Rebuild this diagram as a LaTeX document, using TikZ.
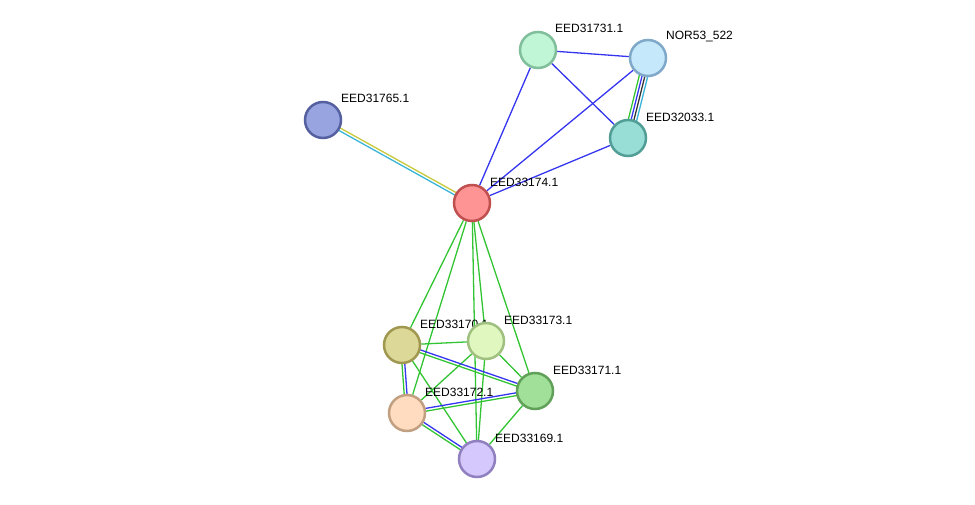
\documentclass[tikz,border=0pt]{standalone}
\usepackage{fontspec}
\setmainfont{Liberation Sans}
\usetikzlibrary{calc}
\pgfdeclarelayer{bg}
\pgfsetlayers{bg,main}
\definecolor{eblue}{HTML}{3535F0}
\definecolor{egreen}{HTML}{33C433}
\definecolor{eyellow}{HTML}{C8C83A}
\definecolor{ecyan}{HTML}{3AB4D8}
\definecolor{eblack}{HTML}{333333}
\tikzset{
  prot/.style={circle, minimum size=36pt, inner sep=0pt, line width=2.5pt},
  lab/.style={anchor=west, inner sep=0pt, font=\fontsize{12pt}{14pt}\selectfont},
  edge/.style={line width=1.3pt},
}
\newcommand{\offedge}[4]{% color, offset, a, b
  \draw[edge,#1] ($(#3)!#2!90:(#4)$) -- ($(#4)!#2!-90:(#3)$);}
\begin{document}
\begin{tikzpicture}[x=1pt,y=-1pt]
\useasboundingbox (0,0) rectangle (975,505);
% labels
\node[lab] (l1) at (555,28) {EED31731.1};
\node[lab] (l2) at (666,37) {NOR53\_522};
\node[lab] (l3) at (646,117) {EED32033.1};
\node[lab] (l4) at (341,98) {EED31765.1};
\node[lab] (l5) at (490,182) {EED33174.1};
\node[lab] (l6) at (420,324) {EED33170.1};
\node[lab] (l7) at (504,320) {EED33173.1};
\node[lab] (l8) at (553,370) {EED33171.1};
\node[lab] (l9) at (425,392) {EED33172.1};
\node[lab] (l10) at (495,438) {EED33169.1};
% nodes
\node[prot, fill={rgb,255:red,192;green,245;blue,213}, draw={rgb,255:red,128;green,190;blue,156}] (a1731) at (538,50) {};
\node[prot, fill={rgb,255:red,197;green,232;blue,251}, draw={rgb,255:red,128;green,168;blue,200}] (nor) at (648,58) {};
\node[prot, fill={rgb,255:red,152;green,221;blue,214}, draw={rgb,255:red,80;green,158;blue,150}] (a2033) at (628,138) {};
\node[prot, fill={rgb,255:red,152;green,164;blue,224}, draw={rgb,255:red,85;green,96;blue,160}] (a1765) at (323,120) {};
\node[prot, fill={rgb,255:red,255;green,148;blue,148}, draw={rgb,255:red,192;green,80;blue,80}] (a3174) at (472,203) {};
\node[prot, fill={rgb,255:red,220;green,216;blue,152}, draw={rgb,255:red,160;green,152;blue,80}] (a3170) at (402,345) {};
\node[prot, fill={rgb,255:red,224;green,248;blue,192}, draw={rgb,255:red,160;green,192;blue,128}] (a3173) at (486,341) {};
\node[prot, fill={rgb,255:red,160;green,224;blue,152}, draw={rgb,255:red,96;green,160;blue,88}] (a3171) at (535,391) {};
\node[prot, fill={rgb,255:red,255;green,220;blue,192}, draw={rgb,255:red,192;green,160;blue,128}] (a3172) at (407,413) {};
\node[prot, fill={rgb,255:red,212;green,200;blue,252}, draw={rgb,255:red,144;green,128;blue,192}] (a3169) at (477,459) {};
% edges
\begin{pgfonlayer}{bg}
\draw[edge,eblue] (a1731) -- (nor);
\draw[edge,eblue] (a1731) -- (a2033);
\draw[edge,eblue] (a1731) -- (a3174);
\draw[edge,eblue] (nor) -- (a3174);
\draw[edge,eblue] (a2033) -- (a3174);
\offedge{egreen}{4.2pt}{a2033}{nor}
\offedge{eblue}{1.4pt}{a2033}{nor}
\offedge{eblack}{-1.4pt}{a2033}{nor}
\offedge{ecyan}{-4.2pt}{a2033}{nor}
\offedge{eyellow}{1.4pt}{a1765}{a3174}
\offedge{ecyan}{-1.4pt}{a1765}{a3174}
\draw[edge,egreen] (a3174) -- (a3170);
\draw[edge,egreen] (a3174) -- (a3172);
\draw[edge,egreen] (a3174) -- (a3169);
\draw[edge,egreen] (a3174) -- (a3173);
\draw[edge,egreen] (a3174) -- (a3171);
\draw[edge,egreen] (a3170) -- (a3173);
\draw[edge,egreen] (a3170) -- (a3169);
\draw[edge,egreen] (a3173) -- (a3172);
\draw[edge,egreen] (a3173) -- (a3171);
\draw[edge,egreen] (a3173) -- (a3169);
\draw[edge,egreen] (a3171) -- (a3169);
\offedge{eblue}{1.4pt}{a3170}{a3171}
\offedge{egreen}{-1.4pt}{a3170}{a3171}
\offedge{eblue}{1.4pt}{a3170}{a3172}
\offedge{egreen}{-1.4pt}{a3170}{a3172}
\offedge{eblue}{1.4pt}{a3172}{a3171}
\offedge{egreen}{-1.4pt}{a3172}{a3171}
\offedge{eblue}{1.4pt}{a3172}{a3169}
\offedge{egreen}{-1.4pt}{a3172}{a3169}
\end{pgfonlayer}
\end{tikzpicture}
\end{document}
